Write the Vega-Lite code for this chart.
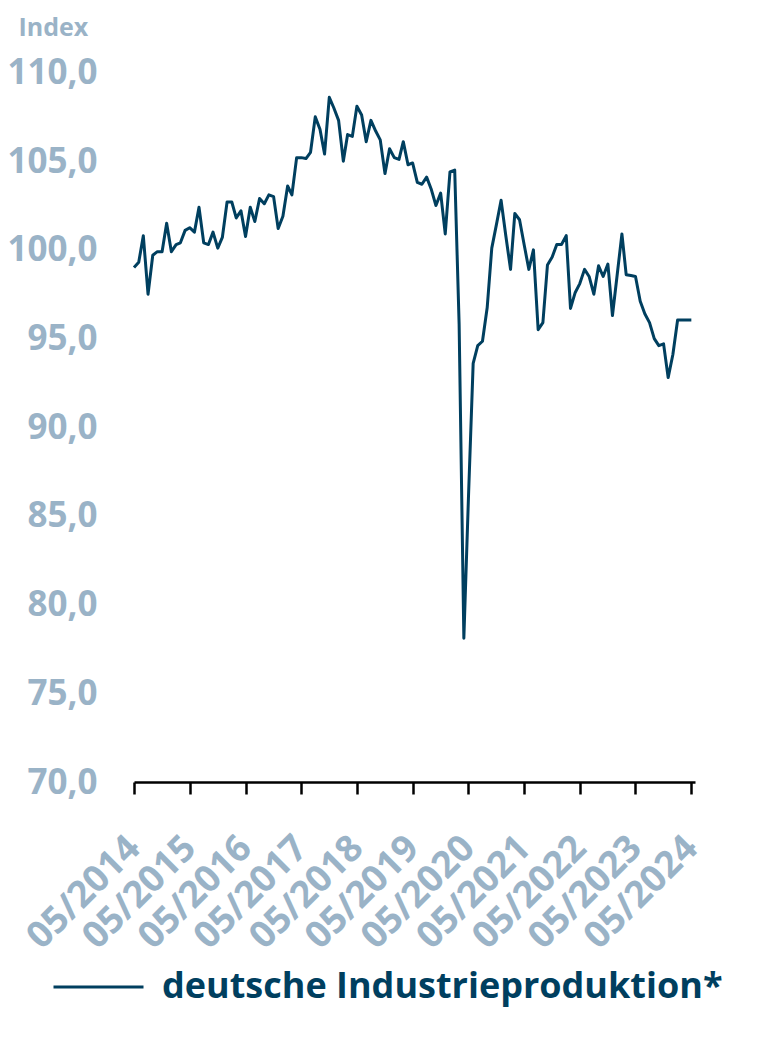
{
  "$schema": "https://vega.github.io/schema/vega-lite/v6.json",
  "width": 561,
  "height": 709.5,
  "autosize": {"type": "none"},
  "padding": {"left": 134, "top": 72.5, "right": 85, "bottom": 258},
  "background": "white",
  "config": {"view": {"stroke": null}, "font": "Open Sans"},
  "data": {
    "values": [
      {"date": "2014-05-01", "value": 99.0},
      {"date": "2014-06-01", "value": 99.3},
      {"date": "2014-07-01", "value": 100.8},
      {"date": "2014-08-01", "value": 97.5},
      {"date": "2014-09-01", "value": 99.7},
      {"date": "2014-10-01", "value": 99.9},
      {"date": "2014-11-01", "value": 99.9},
      {"date": "2014-12-01", "value": 101.5},
      {"date": "2015-01-01", "value": 99.9},
      {"date": "2015-02-01", "value": 100.3},
      {"date": "2015-03-01", "value": 100.4},
      {"date": "2015-04-01", "value": 101.1},
      {"date": "2015-05-01", "value": 101.25},
      {"date": "2015-06-01", "value": 101.0},
      {"date": "2015-07-01", "value": 102.4},
      {"date": "2015-08-01", "value": 100.4},
      {"date": "2015-09-01", "value": 100.3},
      {"date": "2015-10-01", "value": 101.0},
      {"date": "2015-11-01", "value": 100.1},
      {"date": "2015-12-01", "value": 100.7},
      {"date": "2016-01-01", "value": 102.7},
      {"date": "2016-02-01", "value": 102.7},
      {"date": "2016-03-01", "value": 101.8},
      {"date": "2016-04-01", "value": 102.2},
      {"date": "2016-05-01", "value": 100.75},
      {"date": "2016-06-01", "value": 102.4},
      {"date": "2016-07-01", "value": 101.6},
      {"date": "2016-08-01", "value": 102.9},
      {"date": "2016-09-01", "value": 102.6},
      {"date": "2016-10-01", "value": 103.1},
      {"date": "2016-11-01", "value": 103.0},
      {"date": "2016-12-01", "value": 101.2},
      {"date": "2017-01-01", "value": 101.9},
      {"date": "2017-02-01", "value": 103.6},
      {"date": "2017-03-01", "value": 103.1},
      {"date": "2017-04-01", "value": 105.2},
      {"date": "2017-05-01", "value": 105.2},
      {"date": "2017-06-01", "value": 105.15},
      {"date": "2017-07-01", "value": 105.5},
      {"date": "2017-08-01", "value": 107.5},
      {"date": "2017-09-01", "value": 106.8},
      {"date": "2017-10-01", "value": 105.4},
      {"date": "2017-11-01", "value": 108.6},
      {"date": "2017-12-01", "value": 108.0},
      {"date": "2018-01-01", "value": 107.3},
      {"date": "2018-02-01", "value": 105.0},
      {"date": "2018-03-01", "value": 106.5},
      {"date": "2018-04-01", "value": 106.4},
      {"date": "2018-05-01", "value": 108.1},
      {"date": "2018-06-01", "value": 107.6},
      {"date": "2018-07-01", "value": 106.1},
      {"date": "2018-08-01", "value": 107.3},
      {"date": "2018-09-01", "value": 106.7},
      {"date": "2018-10-01", "value": 106.2},
      {"date": "2018-11-01", "value": 104.3},
      {"date": "2018-12-01", "value": 105.7},
      {"date": "2019-01-01", "value": 105.2},
      {"date": "2019-02-01", "value": 105.1},
      {"date": "2019-03-01", "value": 106.1},
      {"date": "2019-04-01", "value": 104.8},
      {"date": "2019-05-01", "value": 104.9},
      {"date": "2019-06-01", "value": 103.8},
      {"date": "2019-07-01", "value": 103.7},
      {"date": "2019-08-01", "value": 104.1},
      {"date": "2019-09-01", "value": 103.4},
      {"date": "2019-10-01", "value": 102.5},
      {"date": "2019-11-01", "value": 103.2},
      {"date": "2019-12-01", "value": 100.9},
      {"date": "2020-01-01", "value": 104.4},
      {"date": "2020-02-01", "value": 104.5},
      {"date": "2020-03-01", "value": 95.8},
      {"date": "2020-04-01", "value": 78.1},
      {"date": "2020-05-01", "value": 86.0},
      {"date": "2020-06-01", "value": 93.6},
      {"date": "2020-07-01", "value": 94.6},
      {"date": "2020-08-01", "value": 94.85},
      {"date": "2020-09-01", "value": 96.75},
      {"date": "2020-10-01", "value": 100.1},
      {"date": "2020-11-01", "value": 101.45},
      {"date": "2020-12-01", "value": 102.8},
      {"date": "2021-01-01", "value": 100.8},
      {"date": "2021-02-01", "value": 98.9},
      {"date": "2021-03-01", "value": 102.05},
      {"date": "2021-04-01", "value": 101.7},
      {"date": "2021-05-01", "value": 100.3},
      {"date": "2021-06-01", "value": 98.9},
      {"date": "2021-07-01", "value": 100.0},
      {"date": "2021-08-01", "value": 95.5},
      {"date": "2021-09-01", "value": 95.9},
      {"date": "2021-10-01", "value": 99.15},
      {"date": "2021-11-01", "value": 99.6},
      {"date": "2021-12-01", "value": 100.3},
      {"date": "2022-01-01", "value": 100.3},
      {"date": "2022-02-01", "value": 100.8},
      {"date": "2022-03-01", "value": 96.7},
      {"date": "2022-04-01", "value": 97.6},
      {"date": "2022-05-01", "value": 98.1},
      {"date": "2022-06-01", "value": 98.9},
      {"date": "2022-07-01", "value": 98.5},
      {"date": "2022-08-01", "value": 97.5},
      {"date": "2022-09-01", "value": 99.1},
      {"date": "2022-10-01", "value": 98.5},
      {"date": "2022-11-01", "value": 99.2},
      {"date": "2022-12-01", "value": 96.3},
      {"date": "2023-01-01", "value": 98.6},
      {"date": "2023-02-01", "value": 100.9},
      {"date": "2023-03-01", "value": 98.6},
      {"date": "2023-04-01", "value": 98.55},
      {"date": "2023-05-01", "value": 98.5},
      {"date": "2023-06-01", "value": 97.1},
      {"date": "2023-07-01", "value": 96.4},
      {"date": "2023-08-01", "value": 95.9},
      {"date": "2023-09-01", "value": 95.0},
      {"date": "2023-10-01", "value": 94.6},
      {"date": "2023-11-01", "value": 94.7},
      {"date": "2023-12-01", "value": 92.8},
      {"date": "2024-01-01", "value": 94.1},
      {"date": "2024-02-01", "value": 96.05},
      {"date": "2024-03-01", "value": 96.05},
      {"date": "2024-04-01", "value": 96.05},
      {"date": "2024-05-01", "value": 96.05}
    ]
  },
  "mark": {"type": "line", "strokeWidth": 3, "strokeJoin": "round"},
  "encoding": {
    "x": {
      "field": "date",
      "type": "temporal",
      "scale": {
        "type": "utc",
        "domain": [
          {"year": 2014, "month": 5, "date": 1, "utc": true},
          {"year": 2024, "month": 5, "date": 25, "utc": true}
        ]
      },
      "axis": {
        "values": [
          {"year": 2014, "month": 5, "date": 1, "utc": true},
          {"year": 2015, "month": 5, "date": 1, "utc": true},
          {"year": 2016, "month": 5, "date": 1, "utc": true},
          {"year": 2017, "month": 5, "date": 1, "utc": true},
          {"year": 2018, "month": 5, "date": 1, "utc": true},
          {"year": 2019, "month": 5, "date": 1, "utc": true},
          {"year": 2020, "month": 5, "date": 1, "utc": true},
          {"year": 2021, "month": 5, "date": 1, "utc": true},
          {"year": 2022, "month": 5, "date": 1, "utc": true},
          {"year": 2023, "month": 5, "date": 1, "utc": true},
          {"year": 2024, "month": 5, "date": 1, "utc": true}
        ],
        "labelExpr": "utcFormat(datum.value, '%m/%Y')",
        "title": null,
        "grid": false,
        "labelAngle": -45,
        "labelAlign": "right",
        "labelBaseline": "middle",
        "labelFont": "Open Sans",
        "labelFontWeight": "bold",
        "labelFontSize": 37,
        "labelColor": "#9ab3c7",
        "labelPadding": 48,
        "labelOverlap": false,
        "labelFlush": false,
        "labelBound": false,
        "tickSize": 12,
        "tickWidth": 2.5,
        "tickColor": "#000000",
        "domainColor": "#000000",
        "domainWidth": 2.5
      }
    },
    "y": {
      "field": "value",
      "type": "quantitative",
      "scale": {"domain": [70, 110], "nice": false, "zero": false},
      "axis": {
        "values": [70, 75, 80, 85, 90, 95, 100, 105, 110],
        "labelExpr": "replace(format(datum.value, '.1f'), '.', ',')",
        "domain": false,
        "ticks": false,
        "grid": false,
        "labelPadding": 37,
        "labelFont": "Open Sans",
        "labelFontWeight": "bold",
        "labelFontSize": 35,
        "labelColor": "#9ab3c7",
        "labelOverlap": false,
        "labelFlush": false,
        "title": "Index",
        "titleAngle": 0,
        "titleAlign": "left",
        "titleBaseline": "alphabetic",
        "titleX": -116,
        "titleY": -37.5,
        "titleFont": "Open Sans",
        "titleFontSize": 25,
        "titleFontWeight": "bold",
        "titleColor": "#9ab3c7"
      }
    },
    "color": {
      "datum": "deutsche Industrieproduktion*",
      "type": "nominal",
      "scale": {"range": ["#003f5f"]},
      "legend": {
        "orient": "none",
        "legendX": -82,
        "legendY": 868,
        "title": null,
        "symbolType": "stroke",
        "symbolSize": 8100,
        "symbolStrokeWidth": 3,
        "labelFont": "Open Sans",
        "labelFontWeight": "bold",
        "labelFontSize": 36,
        "labelColor": "#003f5f",
        "labelOffset": 17,
        "labelLimit": 0
      }
    }
  }
}
